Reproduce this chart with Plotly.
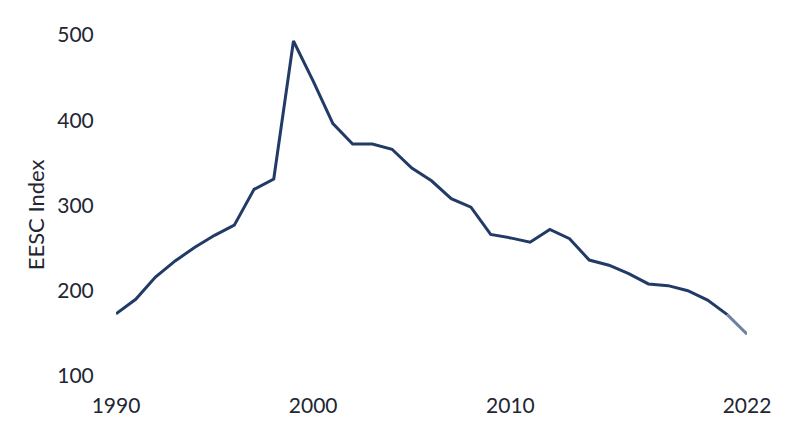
import plotly.graph_objects as go

years = list(range(1990, 2023))
eesc = [173, 190, 216, 235, 251, 265, 277, 319, 331, 493, 446, 396, 372, 372, 366, 344,
        329, 308, 298, 266, 262, 257, 272, 261, 236, 230, 220, 208, 206, 200, 189, 172, 149]
x_ticks = [1990, 2000, 2010, 2022]
y_ticks = [100, 200, 300, 400, 500]

navy = "#223b66"
font = "Lato, 'Open Sans', sans-serif"

fig = go.Figure()
fig.add_trace(go.Scatter(x=years[:-1], y=eesc[:-1], mode="lines",
                         line=dict(color=navy, width=3), hoverinfo="skip", showlegend=False))
fig.add_trace(go.Scatter(x=years[-2:], y=eesc[-2:], mode="lines",
                         line=dict(color="#6d82a3", width=3), hoverinfo="skip", showlegend=False))

fig.add_annotation(text="EESC Index", xref="paper", yref="paper", x=-0.128, y=0.472,
                   xanchor="center", yanchor="middle", textangle=-90, showarrow=False,
                   font=dict(size=22, color="#222633"))

fig.update_layout(
    width=800, height=447,
    margin=dict(l=108, r=61, t=27, b=79),
    paper_bgcolor="white", plot_bgcolor="white",
    font=dict(family=font, size=21, color="#222633"),
    xaxis=dict(range=[1990, 2022], tickvals=x_ticks, showgrid=False, zeroline=False,
               showline=False, ticks="outside", ticklen=11, tickcolor="rgba(0,0,0,0)"),
    yaxis=dict(range=[100, 500], tickvals=y_ticks, showgrid=False, zeroline=False,
               showline=False, ticks="outside", ticklen=17, tickcolor="rgba(0,0,0,0)"),
)
fig.write_html("out.html")
